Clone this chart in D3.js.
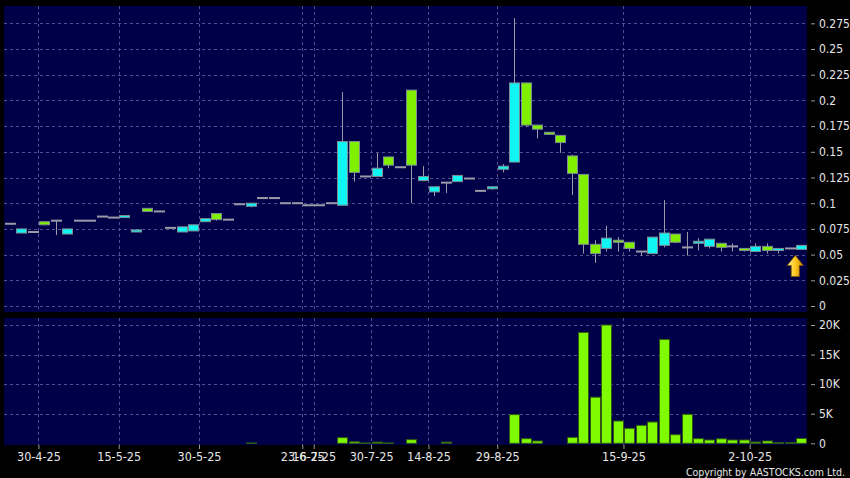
<!DOCTYPE html>
<html><head><meta charset="utf-8">
<script src="https://cdn.jsdelivr.net/npm/d3@7"></script>
<style>
html,body{margin:0;padding:0;background:#000;}
svg{display:block;}
text{font-family:"DejaVu Sans Condensed","DejaVu Sans",sans-serif;}
</style></head>
<body>
<script>
// ---- data (index = trading-day slot) ----
const opens  = [0.080,0.071,0.072,0.082,0.083,0.070,0.083,0.083,0.087,0.086,0.086,0.072,0.095,0.092,0.076,0.072,0.073,0.082,0.090,0.084,
                0.099,0.097,0.105,0.105,0.100,0.100,0.098,0.098,0.100,0.098,0.160,0.126,0.126,0.145,0.135,0.210,0.122,0.111,0.120,0.121,
                0.124,0.112,0.114,0.133,0.140,0.217,0.176,0.169,0.166,0.146,0.128,0.060,0.056,0.064,0.062,0.053,0.051,0.059,0.070,0.057,
                0.061,0.058,0.061,0.058,0.056,0.053,0.058,0.054,0.056,0.055];
const highs  = [0.080,0.075,0.072,0.082,0.083,0.075,0.083,0.083,0.087,0.086,0.088,0.074,0.095,0.092,0.076,0.077,0.079,0.085,0.090,0.084,
                0.099,0.100,0.105,0.105,0.100,0.100,0.098,0.098,0.100,0.208,0.160,0.126,0.149,0.145,0.135,0.210,0.136,0.116,0.120,0.127,
                0.124,0.112,0.116,0.138,0.280,0.217,0.176,0.169,0.166,0.147,0.128,0.064,0.078,0.067,0.062,0.053,0.067,0.103,0.070,0.072,
                0.066,0.065,0.061,0.061,0.056,0.061,0.061,0.056,0.056,0.059];
const lows   = [0.080,0.071,0.072,0.079,0.069,0.070,0.083,0.083,0.087,0.086,0.086,0.072,0.092,0.092,0.076,0.072,0.073,0.082,0.083,0.084,
                0.099,0.096,0.105,0.105,0.100,0.100,0.098,0.098,0.100,0.098,0.121,0.126,0.126,0.134,0.135,0.100,0.122,0.107,0.110,0.121,
                0.124,0.112,0.113,0.130,0.140,0.174,0.163,0.167,0.149,0.108,0.051,0.042,0.053,0.053,0.053,0.049,0.051,0.057,0.061,0.049,
                0.054,0.056,0.053,0.053,0.053,0.053,0.051,0.051,0.056,0.055];
const closes = [0.080,0.075,0.072,0.079,0.083,0.075,0.083,0.083,0.087,0.086,0.088,0.074,0.092,0.092,0.076,0.077,0.079,0.085,0.084,0.084,
                0.099,0.100,0.105,0.105,0.100,0.100,0.098,0.098,0.100,0.160,0.130,0.126,0.134,0.137,0.135,0.137,0.126,0.116,0.120,0.127,
                0.124,0.112,0.116,0.136,0.217,0.176,0.172,0.167,0.159,0.129,0.060,0.051,0.066,0.062,0.056,0.053,0.067,0.071,0.062,0.057,
                0.063,0.065,0.057,0.058,0.054,0.058,0.054,0.056,0.056,0.059];
const volumes= [0,0,0,0,0,0,0,0,0,0,0,0,0,0,0,0,0,0,0,0,
                0,60,0,0,0,0,0,0,0,950,250,60,200,60,0,620,0,0,200,0,
                0,0,0,0,4850,780,390,0,0,1000,18750,7800,20000,3770,2530,3040,3600,17560,1450,4900,
                780,560,760,560,560,220,390,100,100,820];
const tickIdx   = [2.5,9.5,16.5,25.5,26.5,31.5,36.5,42.5,53.5,64.5];
const tickLabels= ["30-4-25","15-5-25","30-5-25","23-6-25","16-7-25","30-7-25","14-8-25","29-8-25","15-9-25","2-10-25"];
const priceTicks= [0,0.025,0.05,0.075,0.1,0.125,0.15,0.175,0.2,0.225,0.25,0.275];
const priceTickLabels=["0","0.025","0.05","0.075","0.1","0.125","0.15","0.175","0.2","0.225","0.25","0.275"];
const volTicks  = [0,5000,10000,15000,20000];
const volTickLabels=["0","5K","10K","15K","20K"];

const candles = opens.map((o,i)=>({i,o,h:highs[i],l:lows[i],c:closes[i],v:volumes[i]}));

const W=850,H=478;
const L=4,R=807;
const pTop=6,pBot=312, vTop=318, vBot=445;
const BG="#000048", GRID="#50508c", TXT="#e6e6e6";

const svg=d3.select("body").append("svg").attr("width",W).attr("height",H);
svg.append("rect").attr("width",W).attr("height",H).attr("fill","#000");

const x=d3.scaleLinear().domain([-0.5,69.5]).range([L,R]);
const y=d3.scaleLinear().domain([0,0.275]).range([306,23.3]);
const yv=d3.scaleLinear().domain([0,20000]).range([443.3,325]);
const bw=10;

// panels
svg.append("rect").attr("x",L).attr("y",pTop).attr("width",R-L).attr("height",pBot-pTop).attr("fill",BG);
svg.append("rect").attr("x",L).attr("y",vTop).attr("width",R-L).attr("height",vBot-vTop).attr("fill",BG);

// grids
const g=svg.append("g").attr("stroke",GRID).attr("stroke-dasharray","3,3").attr("stroke-width",1);
priceTicks.forEach(t=>g.append("line").attr("x1",L).attr("x2",R).attr("y1",Math.round(y(t))+0.5).attr("y2",Math.round(y(t))+0.5));
volTicks.forEach(t=>{ if(t>0) g.append("line").attr("x1",L).attr("x2",R).attr("y1",Math.round(yv(t))+0.5).attr("y2",Math.round(yv(t))+0.5);});
tickIdx.forEach(t=>{
  const xx=Math.round(x(t))+0.5;
  g.append("line").attr("x1",xx).attr("x2",xx).attr("y1",pTop).attr("y2",pBot);
  g.append("line").attr("x1",xx).attr("x2",xx).attr("y1",vTop).attr("y2",vBot);
});

// right axes
const ay=d3.axisRight(y).tickValues(priceTicks).tickFormat((d,i)=>priceTickLabels[i]).tickSize(4).tickPadding(4);
const ayg=svg.append("g").attr("transform",`translate(${R+4},0)`).call(ay);
const avy=d3.axisRight(yv).tickValues(volTicks).tickFormat((d,i)=>volTickLabels[i]).tickSize(4).tickPadding(4);
const avg=svg.append("g").attr("transform",`translate(${R+4},0)`).call(avy);
const ax=d3.axisBottom(x).tickValues(tickIdx).tickFormat((d,i)=>tickLabels[i]).tickSize(4).tickPadding(3);
const axg=svg.append("g").attr("transform",`translate(0,${vBot})`).call(ax);
[ayg,avg,axg].forEach(a=>{
  a.select(".domain").remove();
  a.selectAll(".tick line").attr("stroke","#9a9a9a");
  a.selectAll("text").attr("fill",TXT).style("font-size","12px").style("font-family","'DejaVu Sans Condensed','DejaVu Sans',sans-serif");
});
axg.selectAll("text").style("font-size","12.5px");

// clip for price panel
svg.append("clipPath").attr("id","pc").append("rect").attr("x",L).attr("y",pTop).attr("width",R-L).attr("height",pBot-pTop);
const cg=svg.append("g").attr("clip-path","url(#pc)");

// wicks
cg.selectAll("line.wick").data(candles.filter(d=>d.h>d.l)).join("line")
  .attr("x1",d=>Math.round(x(d.i))+0.5).attr("x2",d=>Math.round(x(d.i))+0.5)
  .attr("y1",d=>y(d.h)).attr("y2",d=>y(d.l)).attr("stroke","#9a9aa8").attr("stroke-width",1);
// bodies
const UP="#10f4f4", DN="#80f000";
cg.selectAll("rect.body").data(candles.filter(d=>d.o!==d.c)).join("rect")
  .attr("x",d=>Math.round(x(d.i)-bw/2)+0.5).attr("width",bw)
  .attr("y",d=>y(Math.max(d.o,d.c))).attr("height",d=>Math.max(2,Math.abs(y(d.o)-y(d.c))))
  .attr("fill",d=>d.c>d.o?UP:DN).attr("stroke","#7c8c94").attr("stroke-width",1);
// doji
cg.selectAll("line.doji").data(candles.filter(d=>d.o===d.c)).join("line")
  .attr("x1",d=>Math.round(x(d.i)-bw/2)).attr("x2",d=>Math.round(x(d.i)+bw/2)+1)
  .attr("y1",d=>y(d.c)).attr("y2",d=>y(d.c)).attr("stroke","#9a9aa8").attr("stroke-width",2);

// volume bars
svg.selectAll("rect.vol").data(candles.filter(d=>d.v>0)).join("rect")
  .attr("x",d=>Math.round(x(d.i)-bw/2)+0.5).attr("width",bw)
  .attr("y",d=>yv(d.v)).attr("height",d=>yv(0)-yv(d.v))
  .attr("fill","#80fa00").attr("stroke","#2f5a10").attr("stroke-width",1);

// arrow marker under last candle
const last=candles[candles.length-1];
const ax0=x(last.i)-6, ay0=y(last.l)+6;
const grad=svg.append("defs").append("linearGradient").attr("id","ag").attr("x1","0").attr("x2","1").attr("y1","0").attr("y2","0");
grad.append("stop").attr("offset","0").attr("stop-color","#fff2a0");
grad.append("stop").attr("offset","0.5").attr("stop-color","#ffc81e");
grad.append("stop").attr("offset","1").attr("stop-color","#d08a00");
svg.append("path")
  .attr("d",`M${ax0},${ay0} L${ax0+8},${ay0+10} L${ax0+4},${ay0+10} L${ax0+4},${ay0+21} L${ax0-4},${ay0+21} L${ax0-4},${ay0+10} L${ax0-8},${ay0+10} Z`)
  .attr("fill","url(#ag)").attr("stroke","#8a5a00").attr("stroke-width",0.8);

// copyright
svg.append("text").attr("x",845).attr("y",476).attr("text-anchor","end").attr("fill",TXT)
  .style("font-size","10.5px").text("Copyright by AASTOCKS.com Ltd.");
</script>
</body></html>
